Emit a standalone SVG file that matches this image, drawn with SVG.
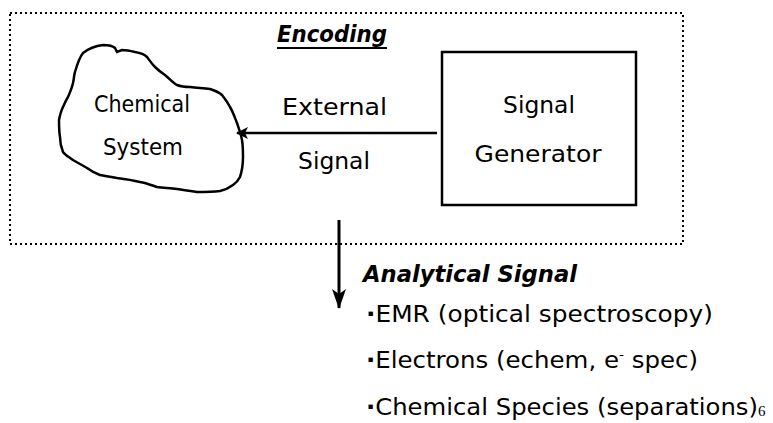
<svg xmlns="http://www.w3.org/2000/svg" width="773" height="423" viewBox="0 0 773 423">
<defs>
<style>
text{font-family:"DejaVu Sans","Liberation Sans",sans-serif;fill:#000;font-size:23px}
.c{text-anchor:middle}
.bi{font-weight:bold;font-style:italic}
.frame{fill:none;stroke:#000;stroke-width:2;stroke-dasharray:2 3}
.ln{fill:none;stroke:#000;stroke-width:2.5}
</style>
<marker id="ah" viewBox="0 0 12 12" refX="11" refY="6" markerWidth="12" markerHeight="12" markerUnits="userSpaceOnUse" orient="auto">
<path d="M0,0 L12,6 L0,12 L3,6 Z" fill="#000"/>
</marker>
<marker id="ahv" viewBox="0 0 20 14" refX="19" refY="7" markerWidth="20" markerHeight="14" markerUnits="userSpaceOnUse" orient="auto">
<path d="M0,0 L20,7 L0,14 L5,7 Z" fill="#000"/>
</marker>
</defs>
<rect id="encoding-frame" class="frame" x="10" y="13" width="673" height="231"/>
<g id="encoding-title">
<text class="c bi" x="332" y="42" textLength="110" lengthAdjust="spacingAndGlyphs">Encoding</text>
<line x1="277" y1="48" x2="387" y2="48" stroke="#000" stroke-width="2"/>
</g>
<g id="chemical-system">
<path class="ln" d="M83,53 C88,49 95,46 103,45 C108,45 113,46 115,48 L117,52 L122,50 C127,50 131,51 135,52 C141,53 145,55 147,57 C150,61 152,64 155,67 C159,71 162,73 165,75 C170,79 173,83 177,85 C182,87 186,87 190,87 C198,88 204,88 210,89 C216,91 219,92 222,95 C226,100 228,103 230,107 C233,112 235,118 237,123 C239,129 241,134 242,140 C243,146 243,151 243,157 C243,164 242,171 240,177 C238,181 236,183 233,185 C229,188 225,190 220,191 C212,192 204,192 197,192 C190,191 183,190 177,189 C170,188 163,188 157,187 C151,185 146,183 140,182 C132,180 125,179 117,178 C111,177 105,176 100,175 C95,173 91,171 87,168 C82,165 78,163 73,160 C69,157 65,155 63,152 C61,147 60,142 60,137 C59,131 59,126 59,120 C60,115 61,111 63,107 C65,103 66,100 68,97 C70,92 72,88 73,83 C74,79 74,75 75,72 C77,65 79,58 83,53 Z"/>
<text class="c" x="142" y="112" textLength="96" lengthAdjust="spacingAndGlyphs">Chemical</text>
<text class="c" x="143" y="155" textLength="80" lengthAdjust="spacingAndGlyphs">System</text>
</g>
<g id="signal-generator">
<rect x="442" y="52" width="194" height="153" fill="none" stroke="#000" stroke-width="2.5"/>
<text class="c" x="539" y="113" textLength="72" lengthAdjust="spacingAndGlyphs">Signal</text>
<text class="c" x="538" y="162" textLength="127" lengthAdjust="spacingAndGlyphs">Generator</text>
</g>
<g id="connectors">
<line x1="437" y1="133" x2="237" y2="133" stroke="#000" stroke-width="2.5" marker-end="url(#ah)"/>
<line x1="339" y1="220" x2="339" y2="308" stroke="#000" stroke-width="3" marker-end="url(#ahv)"/>
</g>
<g id="external-signal-label">
<text class="c" x="334.5" y="115" textLength="105" lengthAdjust="spacingAndGlyphs">External</text>
<text class="c" x="334" y="169" textLength="72" lengthAdjust="spacingAndGlyphs">Signal</text>
</g>
<g id="analytical-signal">
<text class="bi" x="363" y="282" textLength="214" lengthAdjust="spacingAndGlyphs">Analytical Signal</text>
<text x="366" y="322" textLength="347" lengthAdjust="spacingAndGlyphs"><tspan font-weight="bold">·</tspan>EMR (optical spectroscopy)</text>
<text x="366" y="368" textLength="332" lengthAdjust="spacingAndGlyphs"><tspan font-weight="bold">·</tspan>Electrons (echem, e<tspan font-size="13" dy="-9">-</tspan><tspan dy="9"> spec)</tspan></text>
<text x="366" y="415" textLength="392" lengthAdjust="spacingAndGlyphs"><tspan font-weight="bold">·</tspan>Chemical Species (separations)</text>
<text x="758" y="416" style="font-family:'Liberation Serif',serif;font-size:15px">6</text>
</g>
</svg>
